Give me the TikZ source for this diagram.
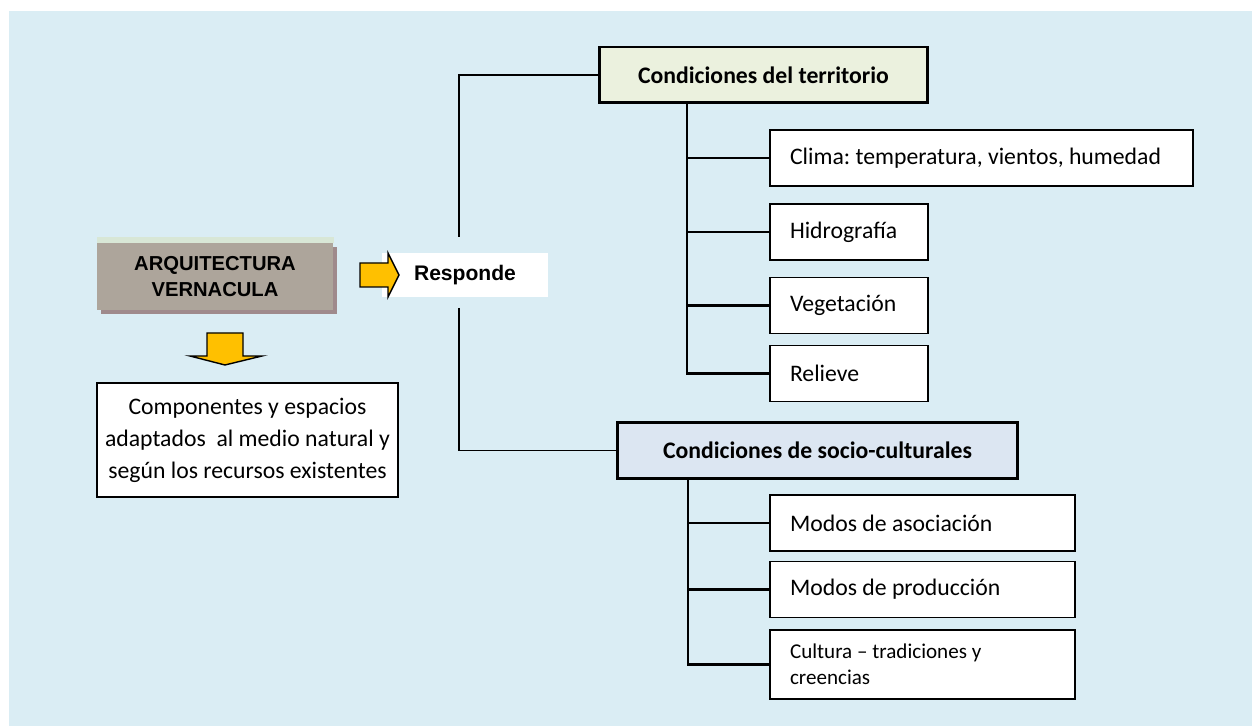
\documentclass[tikz,border=0pt]{standalone}
\usepackage{fontspec}
\setmainfont{Carlito}
\newfontfamily\arialfont{Liberation Sans}
\usetikzlibrary{positioning}
\definecolor{fondo}{HTML}{DAEDF4}
\definecolor{verdeclaro}{HTML}{EBF1DE}
\definecolor{azulclaro}{HTML}{DCE6F2}
\definecolor{grisarq}{HTML}{ADA59B}
\definecolor{sombra}{HTML}{9F8A8C}
\definecolor{franja}{HTML}{D8E7D6}
\definecolor{amarillo}{HTML}{FFC000}

\begin{document}
\frenchspacing
\begin{tikzpicture}[x=0.02cm,y=-0.02cm,
  cabecera/.style={draw,line width=1.7pt,minimum height=1.12cm,font=\bfseries\fontsize{13.5}{16}\selectfont},
  hoja/.style={draw,line width=1.1pt,fill=white,inner xsep=0.4cm,minimum height=1.12cm,align=flush left,font=\fontsize{13.5}{16}\selectfont},
  tronco/.style={line width=1.6pt},
  rama/.style={line width=1.2pt},
  flecha/.style={fill=amarillo,draw=black,line width=0.8pt,line join=miter}]
\useasboundingbox (0,0) rectangle (1252,726);
\fill[fondo] (9,11) rectangle (1252,726);

% bloque de la izquierda
\fill[sombra] (101,247) rectangle (337,314);
\node[fill=grisarq,minimum width=4.72cm,minimum height=1.34cm,align=center,
  font=\arialfont\bfseries\fontsize{11.5}{15}\selectfont] (arq) at (215,276.5) {ARQUITECTURA\\VERNACULA};
\fill[franja] (arq.north west) rectangle ([shift={(1,-6)}]arq.north east);

\draw[flecha] (207,333) -- (243,333) -- (243,356) -- (262,356) -- (225,365) -- (190,356) -- (207,356) -- cycle;

\node[draw,line width=1pt,fill=white,minimum width=6.02cm,minimum height=2.28cm,align=center,
  font=\fontsize{13.5}{18.2}\selectfont] (comp) at (247.5,440)
  {Componentes y espacios\\adaptados\ \ al medio natural y\\según los recursos existentes};

\node[fill=white,minimum width=3.32cm,minimum height=0.88cm,
  font=\arialfont\bfseries\fontsize{12}{14}\selectfont] (resp) at (465,275) {Responde};
\draw[flecha] (360,263) -- (388,263) -- (388,253) -- (399,275) -- (388,297) -- (388,287) -- (360,287) -- cycle;

% cabeceras
\node[cabecera,fill=verdeclaro,minimum width=6.58cm] (terr) at (763.5,75) {Condiciones del territorio};
\node[cabecera,fill=azulclaro,minimum width=8.02cm] (socio) at (817.5,450.5) {Condiciones de socio-culturales};

\coordinate (bt) at (459,237);
\coordinate (bb) at (459,308);
\draw[line width=0.8pt] (terr.west) -- (terr.west -| bt) -- (bt);
\draw[line width=0.8pt] (bb) |- (socio.west);

% condiciones del territorio
\node[hoja,text width=7.66cm] (clima) at (981.5,158) {Clima: temperatura, vientos, humedad};
\node[hoja,text width=2.36cm] (hidro) at (849,232) {Hidrografía};
\node[hoja,text width=2.36cm] (veget) at (849,305.5) {Vegetación};
\node[hoja,text width=2.36cm] (relieve) at (849,373.5) {Relieve};

\coordinate (tstem) at ([xshift=-1.53cm]terr.south);
\draw[tronco] (tstem) |- (relieve.west);
\foreach \n in {clima,hidro,veget}
  \draw[rama] (tstem |- \n.west) -- (\n.west);

% condiciones socio-culturales
\node[hoja,text width=5.3cm] (asoc) at (922.5,523) {Modos de asociación};
\node[hoja,text width=5.3cm] (prod) at (922.5,589.5) {Modos de producción};
\node[hoja,text width=5.3cm,minimum height=1.38cm,font=\fontsize{12}{15}\selectfont] (cult) at (922.5,664.5)
  {Cultura -- tradiciones y\\creencias};

\coordinate (sstem) at ([xshift=-2.59cm]socio.south);
\draw[tronco] (sstem) |- (cult.west);
\foreach \n in {asoc,prod}
  \draw[rama] (sstem |- \n.west) -- (\n.west);

\end{tikzpicture}
\end{document}
